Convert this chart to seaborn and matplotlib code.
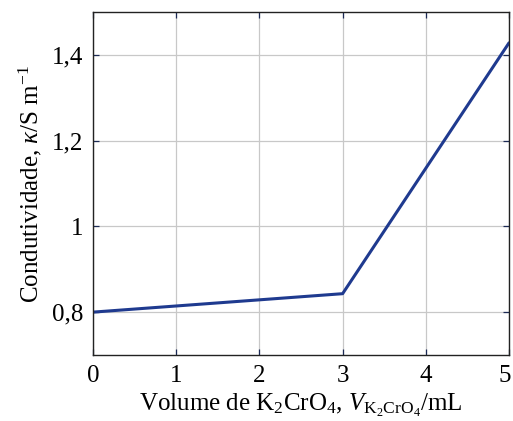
import numpy as np
import pandas as pd
import seaborn as sns
import matplotlib
matplotlib.use("Agg")
from matplotlib import pyplot as plt
from matplotlib import transforms

# data
volume_ml = [0, 3, 5]
conductivity = [0.80, 0.843, 1.428]
yticks = [0.8, 1.0, 1.2, 1.4]
ytick_labels = ["0,8", "1", "1,2", "1,4"]
xticks = [0, 1, 2, 3, 4, 5]

sns.set_theme(style="whitegrid")
plt.rcParams["font.family"] = ["Liberation Serif", "DejaVu Serif"]
plt.rcParams["mathtext.fontset"] = "custom"
plt.rcParams["mathtext.rm"] = "Liberation Serif"
plt.rcParams["mathtext.it"] = "Liberation Serif:italic"

df = pd.DataFrame({"v": volume_ml, "k": conductivity})

fig = plt.figure(figsize=(5.13, 4.21), dpi=100)
ax = fig.add_axes([93 / 513, 66 / 421, 416 / 513, 343 / 421])
sns.lineplot(data=df, x="v", y="k", ax=ax, color="#1f3a8f", linewidth=2.2)

ax.set_xlim(0, 5)
ax.set_ylim(0.7, 1.5)
ax.set_xticks(xticks)
ax.set_xticklabels([str(t) for t in xticks])
ax.set_yticks(yticks)
ax.set_yticklabels(ytick_labels)
ax.grid(True, color="#c8c8c8", linewidth=0.9)
ax.set_facecolor("white")
for s in ax.spines.values():
    s.set_color("#222222")
    s.set_linewidth(1.0)
ax.tick_params(direction="in", length=4, width=0.9, color="#1c2a55",
               labelsize=18, labelcolor="black", pad=7,
               right=True, top=True, left=True, bottom=True)
# keep the last x label inside the canvas
last = ax.get_xticklabels()[-1]
last.set_transform(last.get_transform() + transforms.ScaledTranslation(-4 / 100, 0, fig.dpi_scale_trans))
ax.set_xlabel(r"Volume de K$_2$CrO$_4$, $V_{\mathrm{K_2CrO_4}}$/mL", fontsize=18, color="black", labelpad=4)
ax.set_ylabel(r"Condutividade, $\kappa$/S m$^{-1}$", fontsize=18, color="black", labelpad=6)

fig.savefig("out.png", dpi=100)
